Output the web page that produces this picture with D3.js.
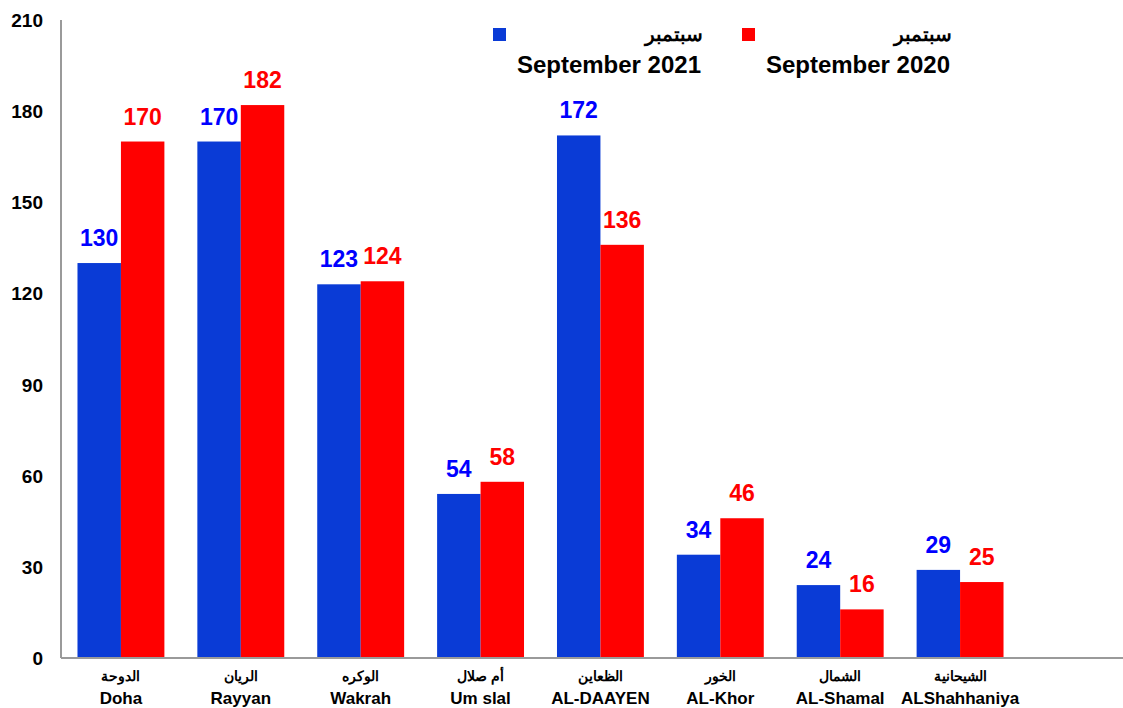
<!DOCTYPE html>
<html><head><meta charset="utf-8">
<script src="https://cdn.jsdelivr.net/npm/d3@7"></script>
<style>body{margin:0;background:#fff}svg{display:block}text{font-family:"Liberation Sans",Arial,sans-serif;font-weight:bold}</style>
</head><body><svg id="c" width="1123" height="708"></svg>
<script>
const categoriesEn = ["Doha","Rayyan","Wakrah","Um slal","AL-DAAYEN","AL-Khor","AL-Shamal","ALShahhaniya"];
const categoriesAr = ["الدوحة","الريان","الوكره","أم صلال","الظعاين","الخور","الشمال","الشيحانية"];
const sep2021 = [130,170,123,54,172,34,24,29];
const sep2020 = [170,182,124,58,136,46,16,25];
const yTicks = [0,30,60,90,120,150,180,210];
const seriesNames = ["2021","2020"];
const legendEn = ["September 2021","September 2020"];
const legendAr = ["سبتمبر","سبتمبر"];

const svg = d3.select("#c");
const x = d3.scaleBand().domain(categoriesEn).range([61,1020]).paddingInner(0.275).paddingOuter(0.1375);
const xs = d3.scaleBand().domain(seriesNames).range([0,x.bandwidth()]);
const y = d3.scaleLinear().domain([0,210]).range([658,20]);
const barCol = {"2021":"#0a3bd6","2020":"#ff0000"};
const lblCol = {"2021":"#0000ff","2020":"#ff0000"};

svg.append("line").attr("x1",61).attr("x2",61).attr("y1",y(210)).attr("y2",y(0)).attr("stroke","#9a9a9a").attr("stroke-width",2);
svg.selectAll(".yt").data(yTicks).join("text").attr("x",43).attr("y",d=>y(d)+7)
  .attr("text-anchor","end").attr("font-size",19).attr("fill","#000").text(d=>d);

const data = categoriesEn.map((c,i)=>({c, vals:[{s:"2021",v:sep2021[i]},{s:"2020",v:sep2020[i]}]}));
const g = svg.selectAll(".g").data(data).join("g").attr("transform",d=>`translate(${x(d.c)},0)`);
g.selectAll("rect").data(d=>d.vals).join("rect")
  .attr("x",d=>xs(d.s)).attr("width",xs.bandwidth()).attr("y",d=>y(d.v)).attr("height",d=>y(0)-y(d.v))
  .attr("fill",d=>barCol[d.s]);
g.selectAll(".vl").data(d=>d.vals).join("text").attr("class","vl")
  .attr("x",d=>xs(d.s)+xs.bandwidth()/2).attr("y",d=>y(d.v)-17).attr("text-anchor","middle")
  .attr("font-size",23).attr("fill",d=>lblCol[d.s]).text(d=>d.v);

svg.append("line").attr("x1",61).attr("x2",1123).attr("y1",y(0)).attr("y2",y(0)).attr("stroke","#9a9a9a").attr("stroke-width",2);

svg.selectAll(".ca").data(categoriesAr).join("text").attr("x",(d,i)=>x(categoriesEn[i])+x.bandwidth()/2).attr("y",681)
  .attr("text-anchor","middle").attr("font-size",14).attr("fill","#000").text(d=>d);
svg.selectAll(".ce").data(categoriesEn).join("text").attr("x",d=>x(d)+x.bandwidth()/2).attr("y",704)
  .attr("text-anchor","middle").attr("font-size",17).attr("fill","#000").text(d=>d);

const lg = [{sq:493, tx:703, s:"2021"},{sq:742, tx:952, s:"2020"}];
lg.forEach((l,i)=>{
  svg.append("rect").attr("x",l.sq).attr("y",28).attr("width",13).attr("height",13).attr("fill",barCol[l.s]);
  svg.append("text").attr("x",l.tx).attr("y",41).attr("text-anchor","end").attr("font-size",20).attr("fill","#000").text(legendAr[i]);
  svg.append("text").attr("x",l.tx-2).attr("y",73).attr("text-anchor","end").attr("font-size",24).attr("fill","#000").text(legendEn[i]);
});
</script></body></html>
